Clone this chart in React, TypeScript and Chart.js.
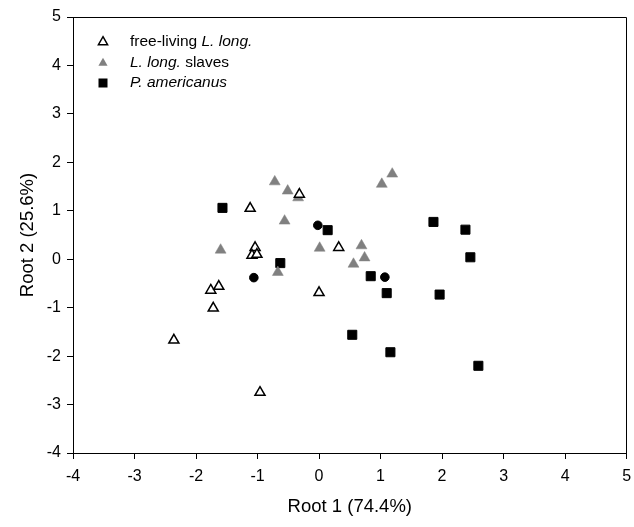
import React, { useEffect, useRef } from 'react';
import { Chart, registerables } from 'chart.js';

Chart.register(...registerables);

// free-living L. long. (open triangles)
const freeLivingX = [-1.12, -0.32, -1.04, -1.09, -1.01, 0.32, 0.0, -1.76, -1.63, -1.72, -2.36, -0.96];
const freeLivingY = [1.05, 1.34, 0.24, 0.08, 0.1, 0.24, -0.69, -0.64, -0.56, -1.01, -1.67, -2.75];

// L. long. slaves (grey triangles)
const slavesX = [-0.72, -0.51, -0.34, -0.56, -1.6, 0.01, 0.69, 0.74, 0.56, -0.67, 1.19, 1.02];
const slavesY = [1.6, 1.41, 1.27, 0.79, 0.19, 0.23, 0.28, 0.03, -0.1, -0.27, 1.76, 1.55];

// P. americanus (black squares)
const americanusX = [-1.57, 0.14, -0.63, 0.84, 1.86, 2.38, 2.46, 1.1, 1.96, 0.54, 1.16, 2.59];
const americanusY = [1.06, 0.6, -0.08, -0.35, 0.77, 0.61, 0.04, -0.7, -0.73, -1.56, -1.92, -2.2];

// group centroids (black circles, not in legend)
const centroidX = [-0.02, -1.06, 1.07];
const centroidY = [0.7, -0.38, -0.37];

const xTickValues = [-4, -3, -2, -1, 0, 1, 2, 3, 4, 5];
const yTickValues = [-4, -3, -2, -1, 0, 1, 2, 3, 4, 5];

const xTitle = 'Root 1 (74.4%)';
const yTitle = 'Root 2 (25.6%)';

const FONT = "'Liberation Sans', Arial, Helvetica, sans-serif";

const toPoints = (xs: number[], ys: number[]) => xs.map((x, i) => ({ x, y: ys[i] }));

export default function App() {
  const ref = useRef<HTMLCanvasElement>(null);

  useEffect(() => {
    if (!ref.current) return;

    const framePlugin = {
      id: 'frame',
      afterDraw(chart: any) {
        const { ctx, chartArea } = chart;
        const l = Math.round(chartArea.left) + 0.5;
        const t = Math.round(chartArea.top) + 0.5;
        const r = Math.round(chartArea.right) - 0.5;
        const b = Math.round(chartArea.bottom) + 0.5;
        ctx.save();
        ctx.strokeStyle = '#000';
        ctx.lineWidth = 1;
        ctx.beginPath();
        ctx.moveTo(l, t);
        ctx.lineTo(r, t);
        ctx.lineTo(r, b);
        ctx.stroke();
        ctx.restore();
      },
    };

    const legendPlugin = {
      id: 'customLegend',
      afterDraw(chart: any) {
        const ctx: CanvasRenderingContext2D = chart.ctx;
        const mx = 103;
        const tx = 130;
        const rows = [42, 63, 83];
        const items: { segs: [string, boolean][]; kind: string }[] = [
          { segs: [['free-living ', false], ['L. long.', true]], kind: 'open' },
          { segs: [['L. long.', true], [' slaves', false]], kind: 'grey' },
          { segs: [['P. americanus', true]], kind: 'square' },
        ];
        ctx.save();
        items.forEach((it, i) => {
          const y = rows[i];
          ctx.beginPath();
          if (it.kind === 'square') {
            ctx.fillStyle = '#000';
            ctx.fillRect(mx - 4.5, y - 4.5, 9, 9);
          } else {
            const r = 5.3;
            ctx.moveTo(mx, y - r);
            ctx.lineTo(mx + r * 0.866, y + r * 0.5);
            ctx.lineTo(mx - r * 0.866, y + r * 0.5);
            ctx.closePath();
            if (it.kind === 'open') {
              ctx.fillStyle = '#fff';
              ctx.fill();
              ctx.strokeStyle = '#000';
              ctx.lineWidth = 1.5;
              ctx.stroke();
            } else {
              ctx.fillStyle = '#808080';
              ctx.fill();
            }
          }
          let x = tx;
          ctx.fillStyle = '#000';
          ctx.textBaseline = 'middle';
          ctx.textAlign = 'left';
          it.segs.forEach(([s, ital]) => {
            ctx.font = `${ital ? 'italic ' : ''}15.5px ${FONT}`;
            ctx.fillText(s, x, y);
            x += ctx.measureText(s).width;
          });
        });
        ctx.restore();
      },
    };

    const tickFont = { family: FONT, size: 16 };
    const titleFont = { family: FONT, size: 18.5 };

    const chart = new Chart(ref.current, {
      type: 'scatter',
      data: {
        datasets: [
          {
            label: 'free-living L. long.',
            data: toPoints(freeLivingX, freeLivingY),
            pointStyle: 'triangle',
            pointRadius: 5.8,
            backgroundColor: '#ffffff',
            borderColor: '#000000',
            borderWidth: 1.5,
          },
          {
            label: 'L. long. slaves',
            data: toPoints(slavesX, slavesY),
            pointStyle: 'triangle',
            pointRadius: 6.3,
            backgroundColor: '#808080',
            borderColor: '#808080',
            borderWidth: 0.5,
          },
          {
            label: 'P. americanus',
            data: toPoints(americanusX, americanusY),
            pointStyle: 'rect',
            pointRadius: 6.4,
            backgroundColor: '#000000',
            borderColor: '#000000',
            borderWidth: 1,
          },
          {
            label: 'centroids',
            data: toPoints(centroidX, centroidY),
            pointStyle: 'circle',
            pointRadius: 4.3,
            backgroundColor: '#000000',
            borderColor: '#000000',
            borderWidth: 1,
          },
        ],
      },
      options: {
        responsive: false,
        animation: false,
        events: [],
        layout: { padding: { top: 17, right: 5, left: 0, bottom: 0 } },
        plugins: {
          legend: { display: false },
          tooltip: { enabled: false },
        },
        scales: {
          x: {
            type: 'linear',
            min: -4,
            max: 5,
            afterBuildTicks: (s: any) => {
              s.ticks = xTickValues.map((v) => ({ value: v }));
            },
            afterFit: (s: any) => {
              s.height = 74;
              s.paddingLeft = 0;
              s.paddingRight = 0;
            },
            ticks: { font: tickFont, color: '#000', padding: 8 },
            grid: { drawOnChartArea: false, drawTicks: true, tickLength: 6, tickColor: '#000', tickWidth: 1 },
            border: { display: true, color: '#000', width: 1 },
            title: { display: true, text: xTitle, font: titleFont, color: '#000', padding: { top: 0, bottom: 9 } },
          },
          y: {
            type: 'linear',
            min: -4,
            max: 5,
            afterBuildTicks: (s: any) => {
              s.ticks = yTickValues.map((v) => ({ value: v }));
            },
            afterFit: (s: any) => {
              s.width = 73;
              s.paddingTop = 0;
              s.paddingBottom = 0;
            },
            ticks: { font: tickFont, color: '#000', padding: 6 },
            grid: { drawOnChartArea: false, drawTicks: true, tickLength: 6, tickColor: '#000', tickWidth: 1 },
            border: { display: true, color: '#000', width: 1 },
            title: { display: true, text: yTitle, font: titleFont, color: '#000', padding: { top: 17, bottom: 0 } },
          },
        },
      },
      plugins: [framePlugin, legendPlugin],
    } as any);

    return () => chart.destroy();
  }, []);

  return (
    <div style={{ position: 'absolute', left: 0, top: 0, width: 634, height: 527, background: '#fff' }}>
      <canvas ref={ref} width={634} height={527} style={{ display: 'block' }} />
    </div>
  );
}
